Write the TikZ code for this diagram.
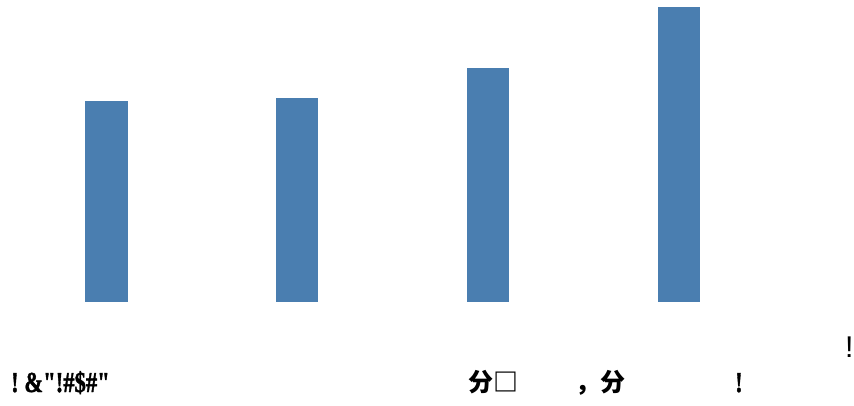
\documentclass[tikz,border=0pt]{standalone}
\usepackage{fontspec}
\setmainfont{Liberation Serif}
\newfontfamily\serifbold{Liberation Serif}[BoldFont={* Bold},BoldFeatures={FakeBold=1.5}]
\newfontfamily\cjk{Noto Sans CJK SC}
\newfontfamily\arialf{Liberation Sans}
\definecolor{barblue}{RGB}{74,126,176}
\begin{document}
\begin{tikzpicture}[x=1pt,y=1pt,
  bar/.style={fill=barblue,draw=none},
  lbl/.style={inner sep=0pt,anchor=base west}]
\useasboundingbox (0,0) rectangle (854,405);
\fill[white] (0,0) rectangle (854,405);
% bars (y measured from top: tikz y = 405 - px)
\path[bar] (85,103) rectangle (128,304);
\path[bar] (276,103) rectangle (318,307);
\path[bar] (467,103) rectangle (509,337);
\path[bar] (658,103) rectangle (700,398);
% texts
\node[lbl,xscale=0.78,transform shape] (t1) at (11,13) {\fontsize{29}{29}\selectfont\serifbold\bfseries !\ \&\symbol{34}!\#\$\#\symbol{34}};
\node[lbl] (t2) at (468,14) {\fontsize{25}{25}\selectfont\cjk\bfseries 分□};
\node[lbl] (t3) at (575,14) {\fontsize{25}{25}\selectfont\cjk\bfseries ，分};
\node[lbl,xscale=0.78,transform shape] (t4) at (735,13) {\fontsize{29}{29}\selectfont\serifbold\bfseries !};
\node[lbl] (t5) at (845,48) {\fontsize{30}{30}\selectfont\arialf !};
\end{tikzpicture}
\end{document}
